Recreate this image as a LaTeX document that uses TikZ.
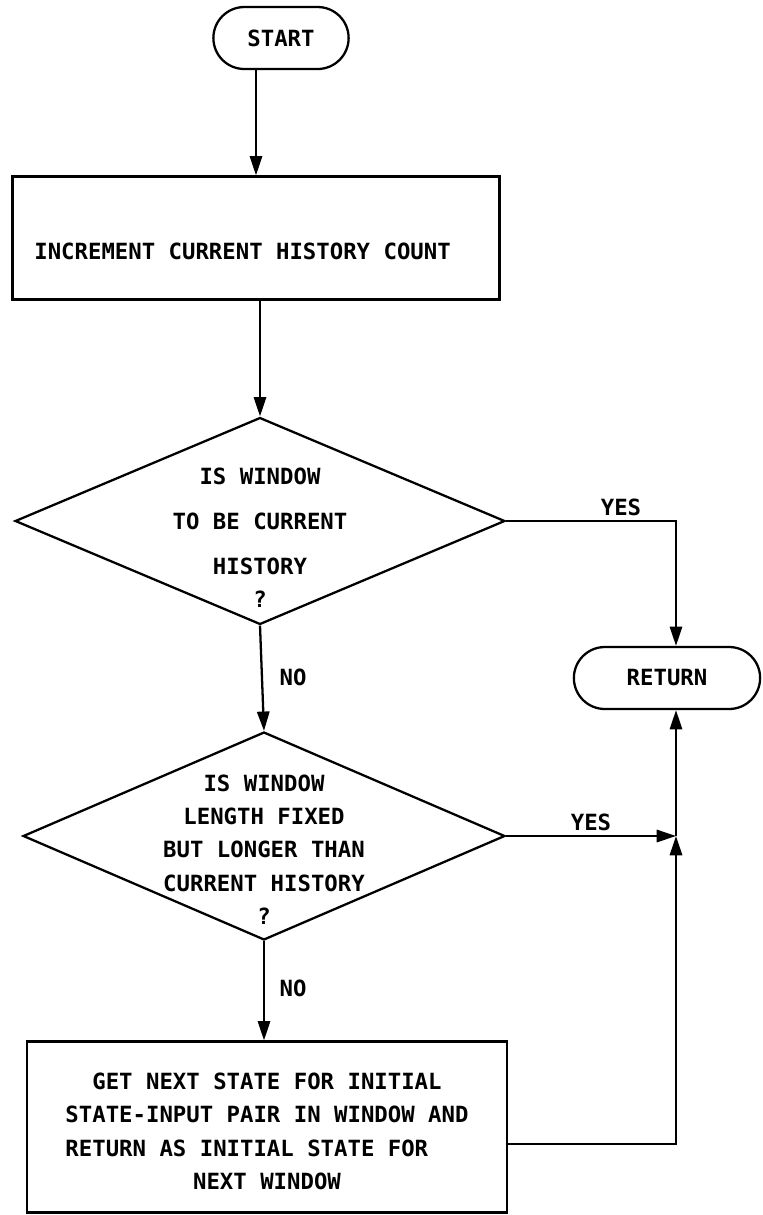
\documentclass[tikz,border=0pt]{standalone}
\usepackage{fontspec}
\newfontfamily\flowfont{DejaVu Sans Mono}
\usetikzlibrary{shapes.geometric,shapes.misc,arrows.meta}
\newcommand{\flowtext}[2]{\smash{\raisebox{#1}{\begin{tabular}[t]{@{}c@{}}#2\end{tabular}}}}

\begin{document}
\begin{tikzpicture}[x=0.02cm,y=-0.02cm,line width=1.3pt,
  font=\flowfont\bfseries\fontsize{12.7}{19}\selectfont,
  term/.style={draw,rounded rectangle,minimum height=1.24cm},
  proc/.style={draw,rectangle,inner sep=0pt},
  dec/.style={draw,diamond,inner sep=0pt},
  >={Triangle[length=11pt,width=7pt]}]

\useasboundingbox (0,0) rectangle (763,1215);

\node[term,minimum width=2.94cm] (start) at (281,38) {START};
\node[proc,minimum width=9.74cm,minimum height=2.46cm] (inc) at (256,238)
  {\flowtext{-12pt}{INCREMENT CURRENT HISTORY COUNT\hphantom{XX}}};

\node[dec,minimum width=9.8cm,minimum height=4.14cm] (dec1) at (260,521)
  {\flowtext{21pt}{IS WINDOW\\[7pt]TO BE CURRENT\\[6.5pt]HISTORY\\?}};
\node[dec,minimum width=9.64cm,minimum height=4.16cm] (dec2) at (264,836)
  {\flowtext{25.6pt}{IS WINDOW\\LENGTH FIXED\\BUT LONGER THAN\\CURRENT HISTORY\\?}};
\node[proc,minimum width=9.6cm,minimum height=3.42cm] (box3) at (267,1127)
  {\flowtext{21.3pt}{GET NEXT STATE FOR INITIAL\\STATE-INPUT PAIR IN WINDOW AND\\RETURN AS INITIAL STATE FOR\hphantom{XXX}\\NEXT WINDOW}};

\node[term,minimum width=3.96cm] (ret) at (667,678) {RETURN};
\coordinate (jn) at (676,836);

\node (yes1) at (621,507) {YES};
\node (no1) at (293,677) {NO};
\node (yes2) at (591,822) {YES};
\node (no2) at (293,988) {NO};

\draw[->] (inc.north |- start.south) -- (inc.north);
\draw[->] (inc.south -| dec1.north) -- (dec1.north);
\draw[->] (dec1.south) -- (dec2.north);
\draw[->] (dec2.south) -- (dec2.south |- box3.north);
\draw[->] (dec1.east) -| (ret.north -| jn);
\draw[->] (dec2.east) -- (jn);
\draw[->] (jn) -- (ret.south -| jn);
\draw[->] ([yshift=-0.34cm]box3.east) -| (jn);
\end{tikzpicture}
\end{document}
